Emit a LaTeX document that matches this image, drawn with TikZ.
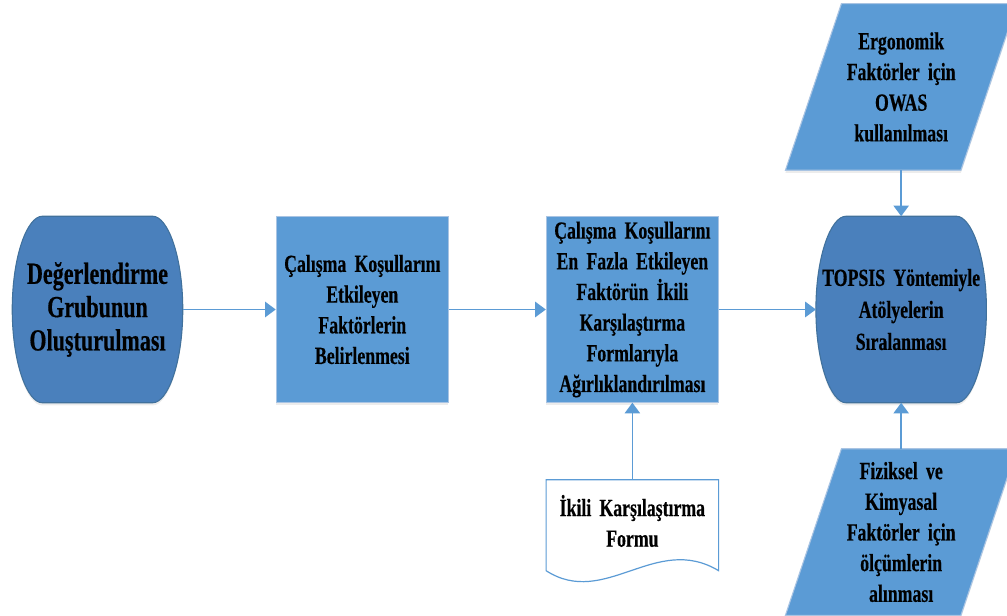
\documentclass[tikz,border=0pt]{standalone}
\usepackage{fontspec}
\setmainfont{Liberation Serif}[FakeStretch=0.72, BoldFeatures={FakeBold=0.4}]
\usetikzlibrary{arrows.meta, positioning, calc, backgrounds, shadows}
\definecolor{boxblue}{HTML}{5B9BD5}
\definecolor{termblue}{HTML}{4A80BC}
\definecolor{termedge}{HTML}{41719C}
\definecolor{boxedge}{HTML}{A9C4E3}
\newcommand{\labelfont}[2]{\bfseries\fontsize{#1}{#2}\selectfont\spaceskip=0.19em\relax}
\tikzstyle{softshadow} = [drop shadow={opacity=0.15, shadow xshift=0pt, shadow yshift=-2pt}]
\tikzstyle{terminal} = [rectangle, minimum width=127.5pt, minimum height=139.5pt, text width=125pt, align=center, inner sep=0pt, font=\labelfont{23}{25}]
\tikzstyle{process} = [rectangle, minimum width=129pt, minimum height=139pt, text width=127pt, align=center, inner sep=0pt, fill=boxblue, draw=boxedge, line width=0.8pt, softshadow, font=\labelfont{18.5}{23}]
\tikzstyle{io} = [rectangle, minimum width=131.25pt, minimum height=124.5pt, text width=127pt, align=center, inner sep=0pt, font=\labelfont{18.5}{23}]
\tikzstyle{doc} = [rectangle, minimum width=129pt, minimum height=61.5pt, text width=127pt, align=center, inner sep=0pt, font=\labelfont{18.5}{23}]
\tikzstyle{termshape} = [fill=termblue, draw=termedge, line width=0.8pt, softshadow]
\tikzstyle{ioshape} = [fill=boxblue, draw=boxedge, line width=0.8pt, softshadow]
\tikzstyle{docshape} = [fill=white, draw=boxblue, line width=0.9pt]
\tikzstyle{arrow} = [line width=1.2pt, draw=boxblue, -{Triangle[length=8pt,width=11.5pt,fill=boxblue]}]
\newcommand{\termpath}[1]{%
  \path[termshape] ($(#1.north west)+(30,0)$) -- ($(#1.north east)+(-30,0)$)
    .. controls ($(#1.north east)+(-15,0)$) and ($(#1.north east)+(0,40)$) .. (#1.east)
    .. controls ($(#1.south east)+(0,-40)$) and ($(#1.south east)+(-15,0)$) .. ($(#1.south east)+(-30,0)$)
    -- ($(#1.south west)+(30,0)$)
    .. controls ($(#1.south west)+(15,0)$) and ($(#1.south west)+(0,-40)$) .. (#1.west)
    .. controls ($(#1.north west)+(0,40)$) and ($(#1.north west)+(15,0)$) .. cycle;}
\newcommand{\iopath}[1]{%
  \path[ioshape] ($(#1.north west)+(28,0)$) -- ($(#1.north east)+(28,0)$)
    -- ($(#1.south east)+(-28,0)$) -- ($(#1.south west)+(-28,0)$) -- cycle;}
\begin{document}
\begin{tikzpicture}[x=0.75pt, y=-0.75pt]
\useasboundingbox (0,0) rectangle (1007,616);
\node (grup) [terminal] at (97.5,309.5) {Değerlendirme\\Grubunun\\Oluşturulması};
\node (belirle) [process, right=69.75pt of grup] {Çalışma Koşullarını\\Etkileyen\\Faktörlerin\\Belirlenmesi};
\node (agirlik) [process, right=72.75pt of belirle] {Çalışma Koşullarını\\En Fazla Etkileyen\\Faktörün İkili\\Karşılaştırma\\Formlarıyla\\Ağırlıklandırılması};
\node (topsis) [terminal, right=72.75pt of agirlik, font=\labelfont{18.5}{24}] {TOPSIS Yöntemiyle\\Atölyelerin\\Sıralanması};
\node (owas) [io, above=34.5pt of topsis] {Ergonomik\\Faktörler için\\OWAS\\kullanılması};
\node (olcum) [io, below=34.5pt of topsis] {Fiziksel ve\\Kimyasal\\Faktörler için\\ölçümlerin\\alınması};
\node (form) [doc, below=57.75pt of agirlik] {İkili Karşılaştırma\\Formu};
\begin{scope}[on background layer]
\termpath{grup}
\termpath{topsis}
\iopath{owas}
\iopath{olcum}
\path[docshape] (form.north west) -- (form.north east) -- ($(form.north east)+(0,91)$)
  .. controls ($(form.north east)+(-63,53)$) and ($(form.north west)+(59,129)$) .. ($(form.north west)+(0,91)$) -- cycle;
\end{scope}
\draw [arrow] (grup) -- (belirle);
\draw [arrow] (belirle) -- (agirlik);
\draw [arrow] (agirlik) -- (topsis);
\draw [arrow] (owas) -- (topsis);
\draw [arrow] (olcum) -- (topsis);
\draw [arrow] (form) -- (agirlik);
\end{tikzpicture}
\end{document}
